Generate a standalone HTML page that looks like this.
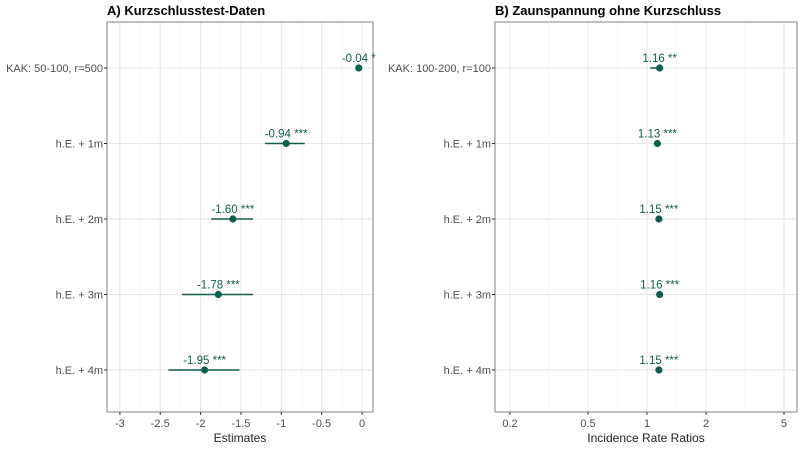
<!DOCTYPE html>
<html><head><meta charset="utf-8"><style>
body{margin:0;background:#fff}
svg{font-family:"Liberation Sans",sans-serif;display:block}
</style></head><body>
<svg id="c" width="800" height="450"></svg>
<script>
const rowA0="KAK: 50-100, r=500", rowB0="KAK: 100-200, r=100";
const estA=[-0.04,-0.94,-1.60,-1.78,-1.95];
const loA=[-0.06,-1.20,-1.87,-2.23,-2.40];
const hiA=[-0.02,-0.71,-1.35,-1.35,-1.52];
const sigA=["*","***","***","***","***"];
const estB=[1.16,1.13,1.15,1.16,1.15];
const loB=[1.04,1.11,1.13,1.14,1.13];
const hiB=[1.21,1.15,1.17,1.18,1.17];
const sigB=["**","***","***","***","***"];
const ticksA=[-3,-2.5,-2,-1.5,-1,-0.5,0];
const ticksB=[0.2,0.5,1,2,5];
const minorB=[0.316,0.707,1.414,3.162];
const labels=[null,"h.E. + 1m","h.E. + 2m","h.E. + 3m","h.E. + 4m"];
const NS="http://www.w3.org/2000/svg", svg=document.getElementById('c');
const col="#0d5e4c";
function el(t,a,p){const e=document.createElementNS(NS,t);for(const k in a)e.setAttribute(k,a[k]);(p||svg).appendChild(e);return e;}
function txt(s,a,p){const e=el('text',a,p);e.textContent=s;return e;}
const yRow=i=>68+i*75.5;
const pTop=22,pBot=412;
const xA=v=>362+v*80.7;
const xB=v=>647+Math.log10(v)*196;
function panel(L,R,xf,ticks,minor,est,lo,hi,sig,first,title,xtitle,fmt,id){
  const g=el('g',{});
  
  
  const cp=el('clipPath',{id:'cp'+id},g); el('rect',{x:L,y:pTop,width:R-L,height:pBot-pTop},cp);
  minor.forEach(v=>el('line',{x1:xf(v),x2:xf(v),y1:pTop,y2:pBot,stroke:'#f2f2f2','stroke-width':0.6},g));
  ticks.forEach(v=>el('line',{x1:xf(v),x2:xf(v),y1:pTop,y2:pBot,stroke:'#e6e6e6','stroke-width':1},g));
  for(let i=0;i<5;i++)el('line',{x1:L,x2:R,y1:yRow(i),y2:yRow(i),stroke:'#e6e6e6','stroke-width':1},g);
  el('rect',{x:L,y:pTop,width:R-L,height:pBot-pTop,fill:'none',stroke:'#7f7f7f','stroke-width':1},g);
  const m=el('g',{'clip-path':'url(#cp'+id+')'},g);
  for(let i=0;i<5;i++){
    const y=yRow(i);
    const ln=el('line',{x1:xf(lo[i]),x2:xf(hi[i]),y1:y,y2:y,stroke:col,'stroke-width':1.6},m);
    
    
    const c=el('circle',{cx:xf(est[i]),cy:y,r:3.6,fill:col},m);
    
    
    const t=txt(fmt(est[i])+' '+sig[i],{x:xf(est[i]),y:y-6,'text-anchor':'middle','font-size':11.5,fill:col},g);
    
    
    const yl=txt(i==0?first:labels[i],{x:L-4,y:y+4,'text-anchor':'end','font-size':11,fill:'#4d4d4d'},g);
    
    
    el('line',{x1:L-3,x2:L,y1:y,y2:y,stroke:'#333'},g);
  }
  ticks.forEach(v=>{el('line',{x1:xf(v),x2:xf(v),y1:pBot,y2:pBot+3,stroke:'#333'},g);
    const t=txt(String(v),{x:xf(v),y:pBot+15,'text-anchor':'middle','font-size':11,fill:'#4d4d4d'},g);
    
    });
  const tt=txt(xtitle,{x:(L+R)/2,y:442,'text-anchor':'middle','font-size':12,fill:'#222'},g);
  
  
  const ti=txt(title,{x:L,y:15,'font-size':13,'font-weight':'bold',fill:'#000'},g);
  
  
}
panel(107,373,xA,ticksA,[-2.75,-2.25,-1.75,-1.25,-0.75,-0.25],estA,loA,hiA,sigA,rowA0,"A) Kurzschlusstest-Daten","Estimates",v=>v.toFixed(2),'a');
panel(495,797,xB,ticksB,minorB,estB,loB,hiB,sigB,rowB0,"B) Zaunspannung ohne Kurzschluss","Incidence Rate Ratios",v=>v.toFixed(2),'b');
</script>
</body></html>
